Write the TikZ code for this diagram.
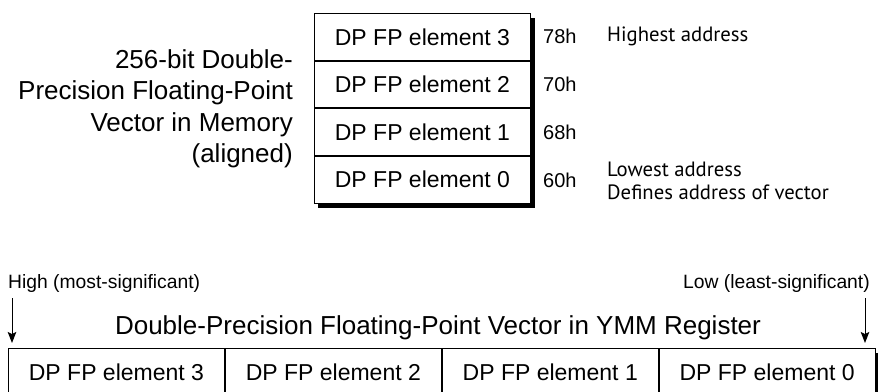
\documentclass[tikz,border=0pt]{standalone}
\usepackage{fontspec}
\setmainfont{Liberation Sans}
\newfontfamily\notefont{PT Sans}
\usetikzlibrary{arrows.meta,calc,backgrounds}

\tikzset{
  cell/.style={draw, fill=white, line width=0.9pt, inner sep=0pt,
    minimum width=216pt, minimum height=46.75pt,
    font=\fontsize{23}{27}\selectfont},
  addr/.style={anchor=west, inner sep=0pt, font=\fontsize{20}{24}\selectfont},
  note/.style={anchor=west, align=left, inner sep=0pt,
    font=\notefont\fontsize{20.7}{23}\selectfont},
  title/.style={inner sep=0pt, font=\fontsize{26}{31.5}\selectfont},
  side/.style={inner sep=0pt, font=\fontsize{19.3}{23}\selectfont},
  sigarrow/.style={line width=1pt, -{Stealth[length=11pt,width=8.5pt,inset=2pt]}}
}

\begin{document}
\begin{tikzpicture}[x=1pt, y=-1pt]
  \path[use as bounding box, clip] (0,0) rectangle (878,391);

  % Vettore in memoria
  \node[cell, anchor=north west] (mem3) at (314,13) {DP FP element 3};
  \node[cell, anchor=north] (mem2) at (mem3.south) {DP FP element 2};
  \node[cell, anchor=north] (mem1) at (mem2.south) {DP FP element 1};
  \node[cell, anchor=north] (mem0) at (mem1.south) {DP FP element 0};

  % Ombra
  \begin{scope}[on background layer]
    \fill ($(mem3.north west)+(4,5)$) rectangle ($(mem0.south east)+(4.5,4.5)$);
  \end{scope}

  % Indirizzi
  \node[addr] (a78) at (543,36) {78h};
  \node[addr] (a70) at (543,84) {70h};
  \node[addr] (a68) at (543,132) {68h};
  \node[addr] (a60) at (543,180) {60h};
  \node[note] (highest) at (607,36) {Highest address};
  \node[note] (lowest) at (607,181) {Lowest address\\Defines address of vector};

  % Titolo memoria
  \node[title, anchor=east, align=right] (memtitle) at (293,109)
    {256-bit Double-\\Precision Floating-Point\\Vector in Memory\\(aligned)};

  % Registro YMM
  \node[title] (regtitle) at (438,328)
    {Double-Precision Floating-Point Vector in YMM Register};
  \node[cell, anchor=north west] (reg3) at (8,348) {DP FP element 3};
  \node[cell, anchor=west] (reg2) at (reg3.east) {DP FP element 2};
  \node[cell, anchor=west] (reg1) at (reg2.east) {DP FP element 1};
  \node[cell, anchor=west] (reg0) at (reg1.east) {DP FP element 0};

  \begin{scope}[on background layer]
    \fill ($(reg3.north west)+(4,5)$) rectangle ($(reg0.south east)+(4.5,4.5)$);
  \end{scope}

  % Etichette alto / basso
  \node[side, anchor=west] (high) at (8,284) {High (most-significant)};
  \node[side, anchor=east] (low) at (870,284) {Low (least-significant)};
  \coordinate (hiA) at (12,298);
  \coordinate (hiB) at (12,343);
  \coordinate (loA) at (865,298);
  \coordinate (loB) at (865,343);
  \draw[sigarrow] (hiA) -- (hiB);
  \draw[sigarrow] (loA) -- (loB);
\end{tikzpicture}
\end{document}
